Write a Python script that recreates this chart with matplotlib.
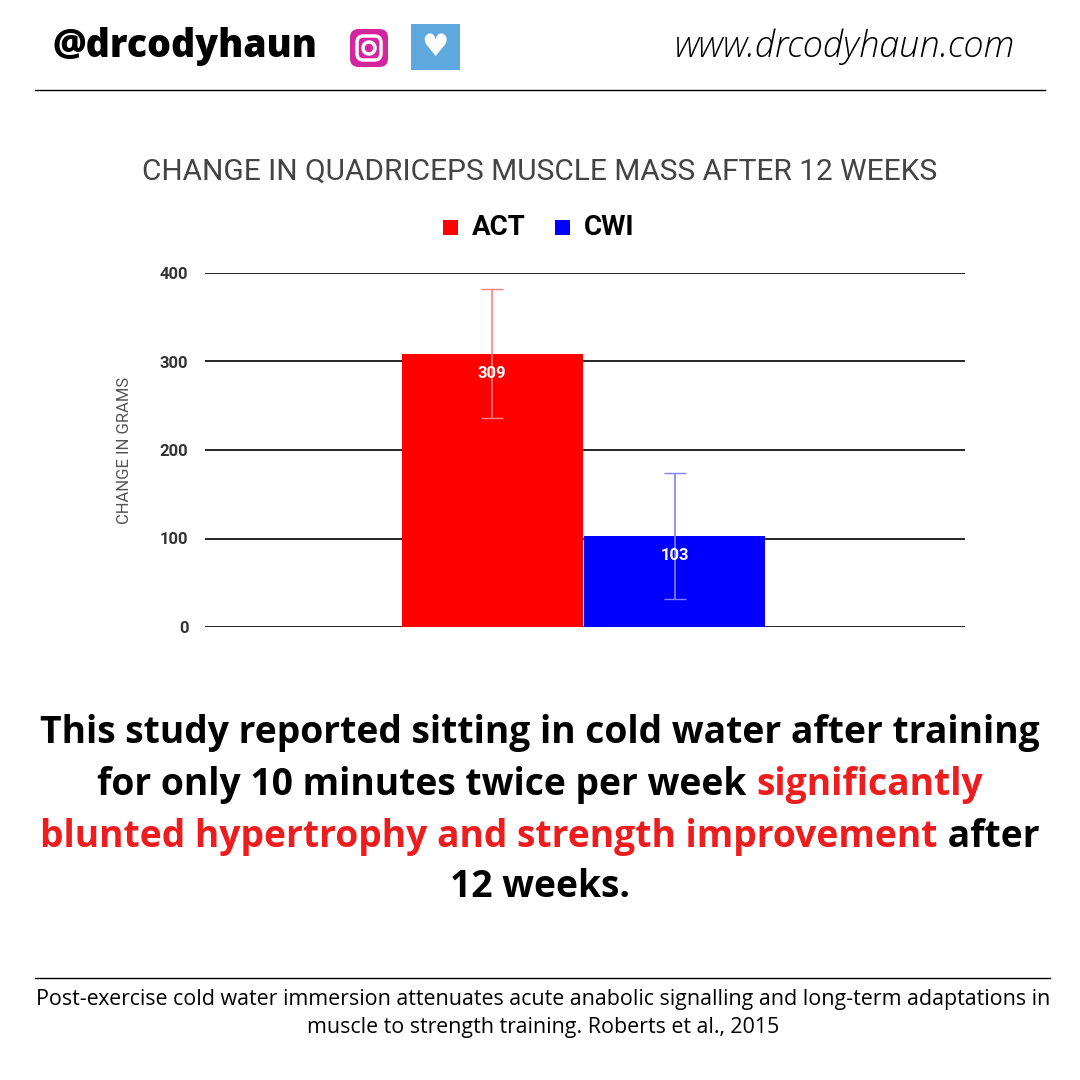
import matplotlib.pyplot as plt
from matplotlib.patches import FancyBboxPatch
import numpy as np

groups = ['ACT', 'CWI']
values = [309, 103]
errors = [73, 71]
bar_colors = ['#ff0000', '#0000ff']
yticks = [0, 100, 200, 300, 400]

fig = plt.figure(figsize=(10.8, 10.8), dpi=100)
fig.patch.set_facecolor('white')

# ---- header ----
fig.text(52/1080, 1 - 47/1080, '@drcodyhaun', fontsize=27, fontweight='heavy',
         family='Open Sans', va='center', ha='left')
fig.text(1015/1080, 1 - 47/1080, 'www.drcodyhaun.com', fontsize=26, style='italic',
         family='Open Sans', fontweight='light', va='center', ha='right')
# icons
ig = FancyBboxPatch((350/1080, 1 - 67/1080), 38/1080, 38/1080,
                    boxstyle='round,pad=0,rounding_size=0.008',
                    transform=fig.transFigure, facecolor='#d6249f', edgecolor='none')
fig.add_artist(ig)
fig.add_artist(FancyBboxPatch((357/1080, 1 - 60/1080), 24/1080, 24/1080,
                              boxstyle='round,pad=0,rounding_size=0.006',
                              transform=fig.transFigure, facecolor='none',
                              edgecolor='white', linewidth=2.5))
fig.add_artist(plt.Circle((369/1080, 1 - 48/1080), 6/1080, transform=fig.transFigure,
                          facecolor='none', edgecolor='white', linewidth=2.5))
fig.add_artist(plt.Rectangle((411/1080, 1 - 70/1080), 49/1080, 46/1080,
                             transform=fig.transFigure, facecolor='#5da9dd'))
fig.text(435/1080, 1 - 47/1080, '\u2665', color='white', fontsize=22,
         ha='center', va='center', family='DejaVu Sans')
fig.add_artist(plt.Line2D([35/1080, 1045/1080], [1 - 90/1080] * 2, color='black', lw=1))

# ---- chart ----
ax = fig.add_axes([205/1080, 1 - 627/1080, 760/1080, 354/1080])
x = [0.378, 0.618]
bars = ax.bar(x, values, width=0.238, color=bar_colors, zorder=3)
for xi, v, e, c in zip(x, values, errors, bar_colors):
    ax.errorbar(xi, v, yerr=e, color='#ff8080' if c == '#ff0000' else '#8080ff',
                capsize=8, lw=1.2, zorder=4)
    ax.text(xi, v - 22, str(v), color='white', fontsize=12, fontweight='bold',
            ha='center', va='center', family='Roboto', zorder=5)
ax.set_xlim(0, 1)
ax.set_ylim(0, 400)
ax.set_yticks(yticks)
ax.set_xticks([])
ax.grid(axis='y', color='black', lw=1.2, zorder=0)
for s in ax.spines.values():
    s.set_visible(False)
ax.tick_params(axis='y', length=0, pad=12, labelsize=12)
for lab in ax.get_yticklabels():
    lab.set_fontweight('bold')
    lab.set_color('#333333')
    lab.set_family('Roboto')
ax.set_ylabel('CHANGE IN GRAMS', fontsize=12, color='#555555', family='Roboto', labelpad=20)
fig.text(540/1080, 1 - 172/1080, 'CHANGE IN QUADRICEPS MUSCLE MASS AFTER 12 WEEKS',
         fontsize=21.5, color='#444444', family='Roboto', ha='center', va='center')
# legend
fig.add_artist(plt.Rectangle((443/1080, 1 - 235/1080), 15/1080, 15/1080,
                             transform=fig.transFigure, facecolor='#ff0000'))
fig.text(472/1080, 1 - 227/1080, 'ACT', fontsize=20, fontweight='bold',
         family='Roboto', va='center')
fig.add_artist(plt.Rectangle((555/1080, 1 - 235/1080), 15/1080, 15/1080,
                             transform=fig.transFigure, facecolor='#0000ff'))
fig.text(584/1080, 1 - 227/1080, 'CWI', fontsize=20, fontweight='bold',
         family='Roboto', va='center')

# ---- caption with mixed colours ----
renderer = fig.canvas.get_renderer()
lines = [
    [('This study reported sitting in cold water after training', 'black')],
    [('for only 10 minutes twice per week ', 'black'), ('significantly', '#ee1c1c')],
    [('blunted hypertrophy and strength improvement', '#ee1c1c'), (' after', 'black')],
    [('12 weeks.', 'black')],
]
ys = [733, 785, 837, 887]
for parts, yp in zip(lines, ys):
    objs = [fig.text(0, 1 - yp/1080, t, color=c, fontsize=26.8, fontweight='bold',
                     family='Open Sans', va='center', ha='left') for t, c in parts]
    widths = [o.get_window_extent(renderer).width for o in objs]
    start = (1080 - sum(widths)) / 2
    for o, w in zip(objs, widths):
        o.set_x(start / 1080)
        start += w

# ---- footer ----
fig.add_artist(plt.Line2D([35/1080, 1050/1080], [1 - 978/1080] * 2, color='black', lw=1))
fig.text(543/1080, 1 - 1000/1080,
         'Post-exercise cold water immersion attenuates acute anabolic signalling and long-term adaptations in',
         fontsize=15.4, family='Open Sans', ha='center', va='center')
fig.text(543/1080, 1 - 1027/1080,
         'muscle to strength training. Roberts et al., 2015',
         fontsize=15.4, family='Open Sans', ha='center', va='center')

fig.savefig('out.png', dpi=100)
